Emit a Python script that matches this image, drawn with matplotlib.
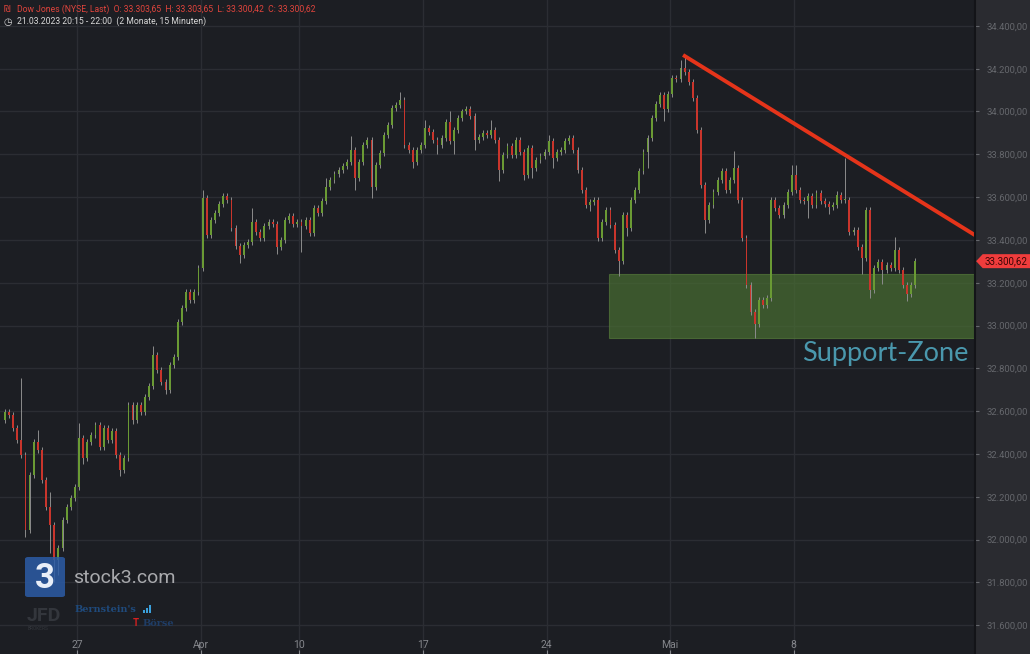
import numpy as np
import matplotlib.pyplot as plt
from matplotlib.patches import Rectangle, FancyBboxPatch, Polygon
import matplotlib.transforms as mtransforms

plt.rcParams['font.family'] = ['Roboto', 'DejaVu Sans']

# trading days shown (15 min candles, grouped here into 6 steps per day)
days = ['22.03', '23.03', '24.03', '27.03', '28.03', '29.03', '30.03', '31.03',
        '03.04', '04.04', '05.04', '06.04', '10.04', '11.04', '12.04', '13.04',
        '14.04', '17.04', '18.04', '19.04', '20.04', '21.04', '24.04', '25.04',
        '26.04', '27.04', '28.04', '01.05', '02.05', '03.05', '04.05', '05.05',
        '08.05', '09.05', '10.05', '11.05', '12.05']

first_open = 32560
closes = [
    [32595, 32580, 32520, 32465, 32395, 32045],
    [32300, 32455, 32420, 32280, 32150, 32070],
    [31905, 31960, 32090, 32150, 32195, 32245],
    [32475, 32380, 32455, 32490, 32535, 32430],
    [32520, 32465, 32505, 32395, 32325, 32380],
    [32630, 32560, 32630, 32595, 32665, 32715],
    [32860, 32790, 32735, 32700, 32815, 32855],
    [33015, 33080, 33155, 33120, 33155, 33270],
    [33595, 33425, 33495, 33525, 33570, 33605],
    [33585, 33455, 33370, 33330, 33375, 33390],
    [33485, 33435, 33410, 33465, 33485, 33475],
    [33365, 33400, 33495, 33510, 33475, 33485],
    [33465, 33495, 33430, 33550, 33525, 33580],
    [33645, 33680, 33710, 33725, 33745, 33765],
    [33820, 33690, 33765, 33845, 33865, 33645],
    [33750, 33805, 33890, 33935, 34015, 34030],
    [34055, 33845, 33820, 33765, 33820, 33845],
    [33925, 33905, 33865, 33845, 33875, 33950],
    [33860, 33915, 33970, 34000, 34010, 33980],
    [33865, 33880, 33900, 33890, 33915, 33865],
    [33725, 33795, 33840, 33795, 33865, 33810],
    [33705, 33830, 33735, 33775, 33790, 33810],
    [33860, 33785, 33810, 33820, 33860, 33875],
    [33820, 33725, 33635, 33565, 33575, 33585],
    [33410, 33485, 33540, 33470, 33355, 33300],
    [33515, 33455, 33585, 33635, 33720, 33810],
    [33875, 33970, 34035, 34075, 34010, 34080],
    [34155, 34150, 34205, 34185, 34140, 34065],
    [33915, 33655, 33495, 33565, 33625, 33680],
    [33720, 33635, 33680, 33735, 33585, 33410],
    [33190, 33065, 33005, 33120, 33095, 33130],
    [33585, 33550, 33515, 33565, 33625, 33705],
    [33635, 33585, 33580, 33605, 33565, 33620],
    [33580, 33570, 33555, 33565, 33610, 33585],
    [33585, 33435, 33445, 33365, 33315, 33540],
    [33165, 33270, 33295, 33260, 33285, 33270],
    [33355, 33260, 33190, 33145, 33190, 33300.62],
]

# notable wick extremes (day, step) -> price
wick_highs = {(0, 4): 32755, (1, 2): 32510, (1, 5): 32220, (3, 0): 32545,
              (5, 0): 32640, (6, 0): 32905, (8, 0): 33635, (9, 0): 33600,
              (10, 0): 33550, (13, 0): 33690, (14, 0): 33885, (16, 0): 34090,
              (17, 0): 33960, (18, 0): 34000, (19, 4): 33960, (22, 0): 33890,
              (27, 2): 34240, (27, 3): 34265, (29, 3): 33815, (31, 5): 33750,
              (32, 0): 33750, (33, 4): 33630, (34, 0): 33785, (36, 0): 33415}
wick_lows = {(0, 5): 32010, (1, 5): 31935, (2, 0): 31800, (2, 1): 31835,
             (3, 1): 32355, (4, 4): 32295, (5, 1): 32540, (6, 3): 32680,
             (8, 1): 33410, (9, 3): 33290, (11, 0): 33335, (12, 0): 33345,
             (14, 1): 33635, (14, 5): 33595, (16, 3): 33735, (17, 3): 33800,
             (18, 1): 33800, (19, 0): 33820, (20, 0): 33675, (21, 0): 33680,
             (21, 2): 33690, (22, 1): 33735, (23, 4): 33535, (24, 5): 33230,
             (25, 1): 33420, (26, 0): 33735, (26, 4): 33955, (28, 2): 33430,
             (29, 5): 33395, (30, 2): 32940, (32, 3): 33500, (33, 2): 33520,
             (34, 4): 33240, (35, 0): 33130, (35, 3): 33195, (36, 3): 33115}

tick_days = [3, 8, 12, 17, 22, 27, 32]
tick_labels = ['27', 'Apr', '10', '17', '24', 'Mai', '8']
price_ticks = [31600, 31800, 32000, 32200, 32400, 32600, 32800, 33000,
               33200, 33400, 33600, 33800, 34000, 34200, 34400]

trend_x = [27.52, 39.6]
trend_y = [34264, 33403]
zone_x0 = 24.52
zone_top = 33240
zone_bottom = 32940
last_price = 33300.62


def de_fmt(v):
    return '{:,.2f}'.format(v).replace(',', 'X').replace('.', ',').replace('X', '.')


# build candles
steps = len(closes[0])
wick_pad = 14
xs, opens, highs, lows, cls = [], [], [], [], []
prev = first_open
for d, row in enumerate(closes):
    for k, cl in enumerate(row):
        hi = max(prev, cl) + wick_pad
        lo = min(prev, cl) - wick_pad
        hi = max(hi, wick_highs.get((d, k), hi))
        lo = min(lo, wick_lows.get((d, k), lo))
        xs.append(d + (k + 0.5) / steps)
        opens.append(prev)
        highs.append(hi)
        lows.append(lo)
        cls.append(cl)
        prev = cl
xs = np.array(xs)
opens = np.array(opens)
cls = np.array(cls)
up = cls >= opens
body_lo = np.minimum(opens, cls)
body_h = np.maximum(np.abs(cls - opens), 5)

W, H = 1030, 654
fig = plt.figure(figsize=(W / 100, H / 100), dpi=100)
fig.patch.set_facecolor('#1c1e23')

ax = fig.add_axes([0, 0, 975 / W, 1])
ax.set_facecolor('#1c1e23')
ax.set_xlim(-0.113, 39.33)
ax.set_ylim(31465, 34521)
for s in ax.spines.values():
    s.set_visible(False)

ax.set_yticks(price_ticks)
ax.tick_params(axis='y', left=False, labelleft=False)
ax.set_xticks(tick_days)
ax.set_xticklabels(tick_labels)
ax.tick_params(axis='x', direction='in', length=3, pad=-10, labelsize=7.5,
               colors='#85878c', width=0.8)
ax.grid(True, color='#2b2d33', lw=1)
ax.set_axisbelow(True)

# support zone
ax.add_patch(Rectangle((zone_x0, zone_bottom), 39.5 - zone_x0, zone_top - zone_bottom,
                       facecolor='#486c32', alpha=0.72, edgecolor='#54783a', lw=0.8,
                       zorder=1))

# candles
ax.vlines(xs, lows, highs, color='#8c8c8c', lw=0.7, zorder=2)
ax.bar(xs, body_h, bottom=body_lo, width=0.075,
       color=np.where(up, '#6a9a34', '#c9352c'), zorder=3, linewidth=0)

# trend line
ax.plot(trend_x, trend_y, color='#e5341a', lw=2.8, solid_capstyle='butt', zorder=4)

ax.text(35.69, 32867, 'Support-Zone', color='#4a98ad', fontsize=19.5,
        family=['Lato', 'DejaVu Sans'], ha='center', va='center', zorder=5)

# price axis panel
axr = fig.add_axes([975 / W, 0, 55 / W, 1])
axr.set_facecolor('#2a2b30')
axr.set_ylim(ax.get_ylim())
axr.set_xlim(0, 1)
axr.set_xticks([])
for s in axr.spines.values():
    s.set_visible(False)
axr.spines['left'].set_visible(True)
axr.spines['left'].set_color('#131418')
axr.spines['left'].set_linewidth(1.5)
axr.set_yticks(price_ticks)
axr.set_yticklabels([de_fmt(v) for v in price_ticks])
axr.tick_params(axis='y', direction='in', length=3, pad=-8, labelsize=6.8,
                colors='#65676c', width=0.8)
for lbl in axr.get_yticklabels():
    lbl.set_ha('left')

# last price tag
half = 7 * (34521 - 31465) / H
tr = mtransforms.blended_transform_factory(axr.transAxes, axr.transData)
axr.add_patch(Polygon([(0.02, last_price), (0.14, last_price + half), (1.0, last_price + half),
                       (1.0, last_price - half), (0.14, last_price - half)],
                      closed=True, transform=tr, fc='#f03c3c', ec='none', zorder=6,
                      clip_on=False))
axr.text(0.57, last_price, de_fmt(last_price), transform=tr, fontsize=7,
         color='#3a0606', va='center', ha='center', zorder=7)

# header
def fx(px):
    return px / W


def fy(py):
    return 1 - py / H


fig.text(fx(17), fy(9.5), 'Dow Jones (NYSE, Last)  O: 33.303,65  H: 33.303,65  L: 33.300,42  C: 33.300,62',
         color='#e0443c', fontsize=6.2, va='center', ha='left')
fig.text(fx(4), fy(9.5), '₪', color='#e0443c', fontsize=6, va='center', ha='left',
         family=['DejaVu Sans'])
fig.text(fx(3.5), fy(21.5), '◷', color='#d8d8d8', fontsize=7, va='center', ha='left',
         family=['DejaVu Sans'])
fig.text(fx(17), fy(21.5), '21.03.2023 20:15 - 22:00  (2 Monate, 15 Minuten)',
         color='#d8d8d8', fontsize=6.2, va='center', ha='left')

# logos
fig.patches.append(FancyBboxPatch((fx(25), fy(597)), 40 / W, 40 / H,
                                  boxstyle='round,pad=0,rounding_size=0.003',
                                  transform=fig.transFigure, fc='#2c5ca6', ec='none',
                                  alpha=0.85, zorder=10))
fig.text(fx(45), fy(578), '3', color='#e8eef8', fontsize=25, fontweight='bold',
         ha='center', va='center', zorder=11)
fig.text(fx(73), fy(578), 'stock3.com', color='#b8b9bc', fontsize=14,
         ha='left', va='center', alpha=0.9, zorder=11)
fig.text(fx(27), fy(616), 'JFD', color='#33363c', fontsize=14, fontweight='bold',
         ha='left', va='center', zorder=11)
fig.text(fx(28), fy(629), 'BROKERS', color='#33363c', fontsize=3.5,
         ha='left', va='center', zorder=11)
fig.text(fx(75), fy(610), "Bernstein's", color='#1f4a7c', fontsize=7, fontweight='bold',
         ha='left', va='center', family=['DejaVu Serif'], zorder=11)
fig.text(fx(143), fy(623), 'Börse', color='#1f3d66', fontsize=7, fontweight='bold',
         ha='left', va='center', family=['DejaVu Serif'], zorder=11)
fig.text(fx(133), fy(623), 'T', color='#d42020', fontsize=7, fontweight='bold',
         ha='left', va='center', zorder=11)
for i, hgt in enumerate([3, 5, 8]):
    fig.patches.append(Rectangle((fx(143 + i * 3), fy(613)), 2 / W, hgt / H,
                                 transform=fig.transFigure, fc='#3aa0dc', ec='none', zorder=11))

fig.savefig('out.png', dpi=100, facecolor=fig.get_facecolor())
